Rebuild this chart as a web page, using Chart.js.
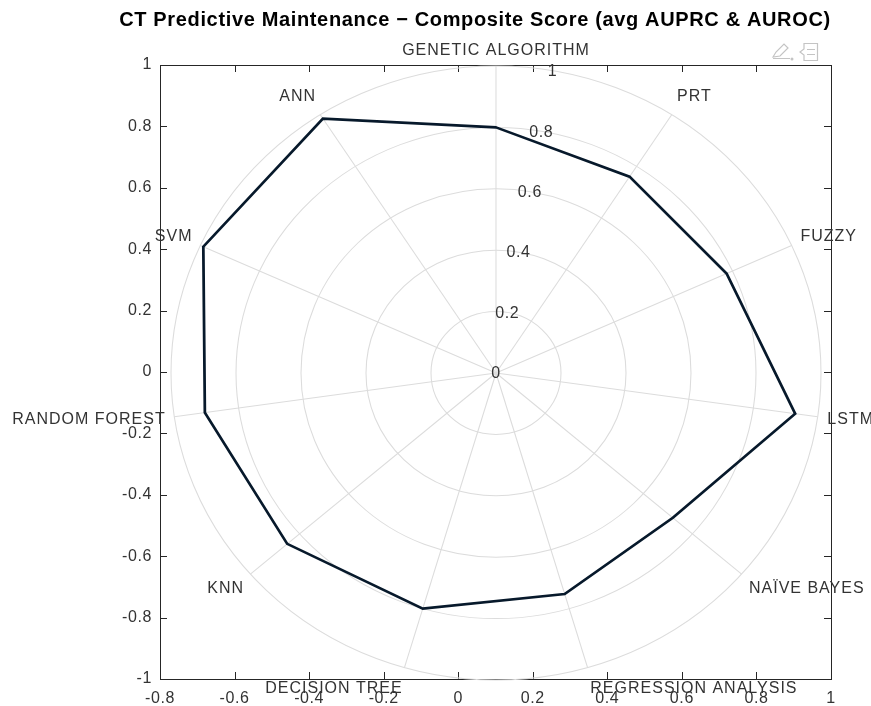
<!DOCTYPE html>
<html>
<head>
<meta charset="utf-8">
<script src="https://cdn.jsdelivr.net/npm/chart.js@4.4.0/dist/chart.umd.min.js"></script>
<style>
    html, body { margin: 0; padding: 0; background: #fff; overflow: hidden; }
    #wrap { position: relative; width: 871px; height: 706px; }
    #wrap canvas { position: absolute; left: 0; top: 0; }
</style>
</head>
<body>
<div id="wrap">
    <canvas id="axesChart" width="871" height="706"></canvas>
    <canvas id="polarChart" width="871" height="706"></canvas>
</div>
<script>
// data
const chartTitle = 'CT Predictive Maintenance \u2212 Composite Score (avg AUPRC & AUROC)';
const methods = ['GENETIC ALGORITHM', 'PRT', 'FUZZY', 'LSTM', 'NAÏVE BAYES', 'REGRESSION ANALYSIS',
                 'DECISION TREE', 'KNN', 'RANDOM FOREST', 'SVM', 'ANN'];
const compositeScore = [0.80, 0.76, 0.78, 0.93, 0.72, 0.75, 0.80, 0.85, 0.905, 0.99, 0.985];
const xTicks = [-0.8, -0.6, -0.4, -0.2, 0, 0.2, 0.4, 0.6, 0.8, 1];
const yTicks = [-1, -0.8, -0.6, -0.4, -0.2, 0, 0.2, 0.4, 0.6, 0.8, 1];
const rTicks = [0, 0.2, 0.4, 0.6, 0.8, 1];

const FONT = '"Liberation Sans", Arial, Helvetica, sans-serif';
const AXIS_COLOR = '#262626';
const TEXT_COLOR = '#333333';
const GRID_COLOR = '#dcdcdc';
const STRETCH = 325 / 307;   // the polar web is slightly wider than tall

// box, inward ticks, title and the little toolbar icons of the background axes
const axesDecor = {
    id: 'axesDecor',
    beforeDraw(chart) {
        chart.ctx.save();
        chart.ctx.letterSpacing = '0.6px';
    },
    afterDraw(chart) {
        const { ctx, chartArea: a, scales: { x, y } } = chart;
        ctx.restore();
        ctx.save();
        ctx.strokeStyle = AXIS_COLOR;
        ctx.lineWidth = 1;
        ctx.strokeRect(a.left + 0.5, a.top + 0.5, a.right - a.left, a.bottom - a.top);
        ctx.beginPath();
        x.ticks.forEach(t => {
            const px = Math.round(x.getPixelForValue(t.value)) + 0.5;
            ctx.moveTo(px, a.bottom); ctx.lineTo(px, a.bottom - 7);
            ctx.moveTo(px, a.top); ctx.lineTo(px, a.top + 7);
        });
        y.ticks.forEach(t => {
            const py = Math.round(y.getPixelForValue(t.value)) + 0.5;
            ctx.moveTo(a.left, py); ctx.lineTo(a.left + 7, py);
            ctx.moveTo(a.right, py); ctx.lineTo(a.right - 7, py);
        });
        ctx.stroke();

        ctx.fillStyle = '#000';
        ctx.font = 'bold 20px ' + FONT;
        ctx.letterSpacing = '0.65px';
        ctx.textAlign = 'center';
        ctx.textBaseline = 'middle';
        ctx.fillText(chartTitle, 475, 20);
        ctx.letterSpacing = '0px';

        // toolbar icons
        ctx.strokeStyle = '#c4c4c4';
        ctx.lineWidth = 1.2;
        ctx.beginPath();
        ctx.moveTo(804, 43.5); ctx.lineTo(817.5, 43.5); ctx.lineTo(817.5, 60.5); ctx.lineTo(804, 60.5);
        ctx.lineTo(804, 55); ctx.lineTo(800, 52); ctx.lineTo(804, 49); ctx.closePath();
        ctx.moveTo(807, 49.5); ctx.lineTo(815, 49.5);
        ctx.moveTo(807, 54.5); ctx.lineTo(815, 54.5);
        ctx.stroke();
        ctx.beginPath();
        ctx.moveTo(773, 57); ctx.lineTo(776, 52); ctx.lineTo(784, 44); ctx.lineTo(788, 48);
        ctx.lineTo(780, 56); ctx.closePath();
        ctx.moveTo(773, 58.5); ctx.lineTo(790, 58.5);
        ctx.stroke();
        ctx.fillStyle = '#c4c4c4';
        ctx.beginPath(); ctx.arc(792, 59, 1.5, 0, Math.PI * 2); ctx.fill();
        ctx.restore();
    }
};

new Chart(document.getElementById('axesChart'), {
    type: 'scatter',
    data: { datasets: [] },
    options: {
        responsive: false,
        animation: false,
        layout: { padding: { left: 0, right: 40, top: 65, bottom: 0 } },
        plugins: { legend: { display: false }, tooltip: { enabled: false } },
        scales: {
            x: {
                type: 'linear',
                min: -0.8,
                max: 1,
                afterBuildTicks: s => { s.ticks = xTicks.map(v => ({ value: v })); },
                afterFit: s => { s.height = 27; },
                grid: { display: false, drawTicks: false },
                border: { display: false },
                ticks: { color: TEXT_COLOR, font: { family: FONT, size: 16 }, padding: 10,
                         maxRotation: 0, autoSkip: false, callback: v => String(v) }
            },
            y: {
                type: 'linear',
                min: -1,
                max: 1,
                afterBuildTicks: s => { s.ticks = yTicks.map(v => ({ value: v })); },
                afterFit: s => { s.width = 160; },
                grid: { display: false, drawTicks: false },
                border: { display: false },
                ticks: { color: TEXT_COLOR, font: { family: FONT, size: 16 }, padding: 8,
                         autoSkip: false, callback: v => String(v) }
            }
        }
    },
    plugins: [axesDecor]
});

// stretch the web horizontally, then put the text on top unstretched
const polarDecor = {
    id: 'polarDecor',
    beforeDraw(chart) {
        const s = chart.scales.r;
        const ctx = chart.ctx;
        ctx.save();
        ctx.translate(s.xCenter, 0);
        ctx.scale(STRETCH, 1);
        ctx.translate(-s.xCenter, 0);
    },
    afterDraw(chart) {
        const s = chart.scales.r;
        const ctx = chart.ctx;
        ctx.restore();
        ctx.save();
        ctx.fillStyle = TEXT_COLOR;
        ctx.font = '16px ' + FONT;
        ctx.letterSpacing = '1px';
        ctx.textBaseline = 'middle';
        const R = s.drawingArea;
        methods.forEach((name, i) => {
            const px = s.getPointPosition(i, R * 1.03);
            const dx = px.x - s.xCenter;
            let align = 'center';
            if (dx > 2) align = 'left';
            else if (dx < -2) align = 'right';
            const py = s.getPointPosition(i, R * (align === 'center' ? 1.05 : 1.07));
            ctx.textAlign = align;
            ctx.fillText(name, s.xCenter + dx * STRETCH + (align === 'right' ? 1 : 0), py.y);
        });
        // radial tick labels just right of the top spoke
        const ang = 80 * Math.PI / 180;
        ctx.letterSpacing = '0.6px';
        ctx.textAlign = 'center';
        rTicks.forEach(v => {
            const d = s.getDistanceFromCenterForValue(v);
            ctx.fillText(String(v), s.xCenter + d * Math.cos(ang) * STRETCH, s.yCenter - d * Math.sin(ang) + 1);
        });
        ctx.restore();
    }
};

new Chart(document.getElementById('polarChart'), {
    type: 'radar',
    data: {
        labels: methods,
        datasets: [{
            label: 'Composite score',
            data: compositeScore,
            borderColor: '#07192b',
            borderWidth: 2.6,
            backgroundColor: 'rgba(0,0,0,0)',
            fill: false,
            pointRadius: 0,
            tension: 0,
            clip: false
        }]
    },
    options: {
        responsive: false,
        animation: false,
        layout: { padding: { left: 189, right: 68, top: 66, bottom: 26 } },
        plugins: { legend: { display: false }, tooltip: { enabled: false } },
        scales: {
            r: {
                min: 0,
                max: 1,
                afterBuildTicks: s => { s.ticks = rTicks.map(v => ({ value: v })); },
                grid: { circular: true, color: GRID_COLOR, lineWidth: 1 },
                angleLines: { color: GRID_COLOR, lineWidth: 1 },
                pointLabels: { display: false },
                ticks: { display: false }
            }
        }
    },
    plugins: [polarDecor]
});
</script>
</body>
</html>
